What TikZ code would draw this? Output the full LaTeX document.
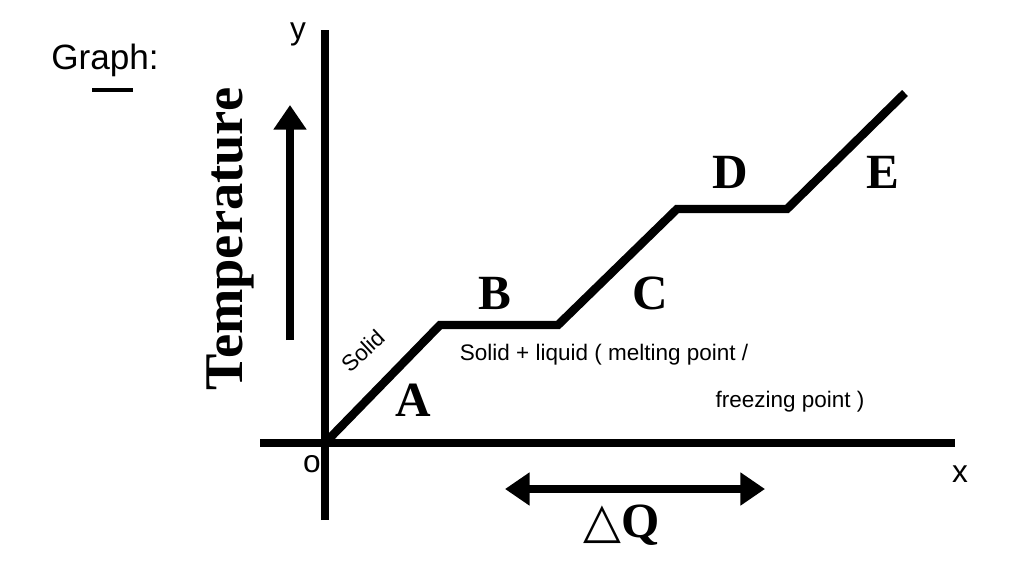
\documentclass[tikz,border=0pt]{standalone}
\usepackage{fontspec}
\setmainfont{Liberation Serif}
\newfontfamily\handfont{Liberation Sans}
\newfontfamily\symfont{DejaVu Sans}
\usetikzlibrary{arrows.meta,positioning}
\tikzset{
  axisline/.style={line width=2.2pt},
  curveline/.style={line width=2.4pt, line join=miter},
  bigletter/.style={font=\fontsize{14}{14}\selectfont\bfseries},
  hand/.style={font=\handfont\fontsize{6.4}{8}\selectfont}
}
\begin{document}
\begin{tikzpicture}
\useasboundingbox (0,0) rectangle (10.24,5.76);
% axes
\coordinate (O) at (3.25,1.33);
\coordinate (Ytop) at (3.25,5.46);
\coordinate (Ybot) at (3.25,0.56);
\coordinate (Xl) at (2.60,1.33);
\coordinate (Xr) at (9.55,1.33);
\draw[axisline] (Ybot) -- (Ytop);
\draw[axisline] (Xl) -- (Xr);
% heating curve
\coordinate (P1) at (4.40,2.51);
\coordinate (P2) at (5.58,2.51);
\coordinate (P3) at (6.77,3.67);
\coordinate (P4) at (7.87,3.67);
\coordinate (P5) at (9.05,4.83);
\draw[curveline] (O) -- (P1) -- (P2) -- (P3) -- (P4) -- (P5);
% labels
\node[hand, font=\handfont\fontsize{9}{9}\selectfont] (ylab) at (2.98,5.42) {y};
\node[hand, font=\handfont\fontsize{9}{9}\selectfont] (xlab) at (9.60,1.02) {x};
\node[hand, font=\handfont\fontsize{9}{9}\selectfont] (olab) at (3.12,1.12) {o};
\node[hand, font=\handfont\fontsize{10}{10}\selectfont] (graph) at (1.05,5.16) {Graph:};
\draw[line width=1pt] (0.92,4.86) -- (1.33,4.86);
\node[bigletter, font=\fontsize{15.5}{15}\selectfont\bfseries, rotate=90] (temp) at (2.30,3.37) {Temperature};
\coordinate (Tlo) at (2.90,2.36);
\coordinate (Thi) at (2.90,4.71);
\draw[line width=2.4pt, -{Triangle[length=7pt,width=9pt]}] (Tlo) -- (Thi);
\node[bigletter] (A) at (4.13,1.76) {A};
\node[bigletter] (B) at (4.95,2.83) {B};
\node[bigletter] (C) at (6.50,2.83) {C};
\node[bigletter] (D) at (7.30,4.04) {D};
\node[bigletter] (E) at (8.83,4.04) {E};
\node[hand, rotate=43, inner sep=1pt] (solid) at (3.63,2.25) {Solid};
\node[hand] (sl1) at (6.04,2.21) {Solid + liquid ( melting point /};
\node[hand] (sl2) at (7.90,1.74) {freezing point )};
\coordinate (Ql) at (5.05,0.87);
\coordinate (Qr) at (7.65,0.87);
\draw[line width=2.2pt, {Triangle[length=7pt,width=9pt]}-{Triangle[length=7pt,width=9pt]}] (Ql) -- (Qr);
\node[bigletter] (dQ) at (6.22,0.51) {{\symfont\bfseries △}Q};
\end{tikzpicture}
\end{document}
